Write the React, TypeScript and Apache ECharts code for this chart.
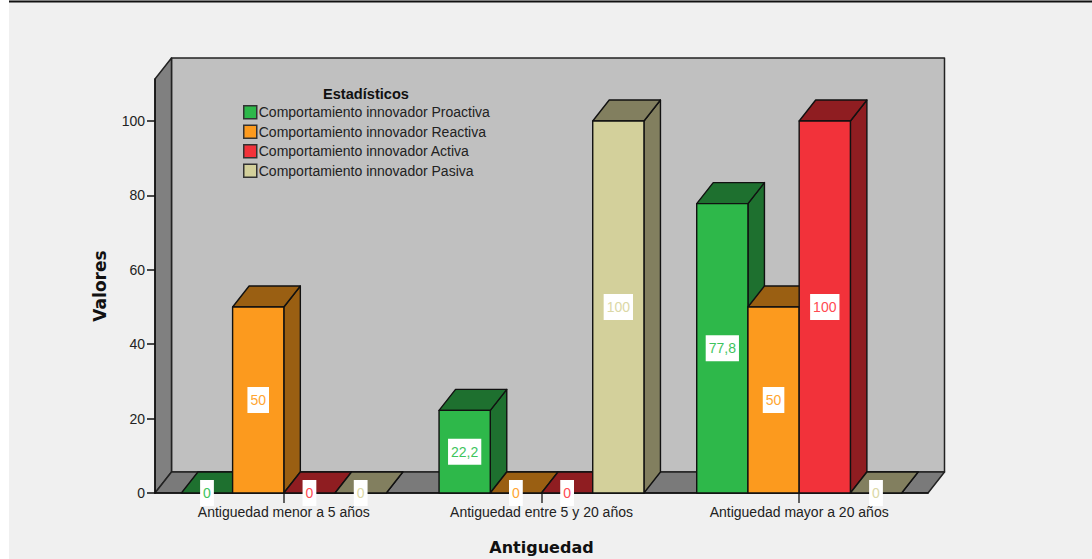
import React, { useEffect, useRef } from "react";
import * as echarts from "echarts";

const categories = [
  "Antiguedad menor a 5 años",
  "Antiguedad entre 5 y 20 años",
  "Antiguedad mayor a 20 años",
];
const proactiva = [0, 22.2, 77.8];
const reactiva = [50, 0, 50];
const activa = [0, 0, 100];
const pasiva = [0, 100, 0];
const seriesNames = [
  "Comportamiento innovador Proactiva",
  "Comportamiento innovador Reactiva",
  "Comportamiento innovador Activa",
  "Comportamiento innovador Pasiva",
];
const frontColors = ["#2eb84a", "#fc9a1e", "#f2323a", "#d3d09b"];
const shadeColors = ["#1e702f", "#9a5f12", "#8f1d21", "#827f5f"];
const tagColors = ["#3ec45c", "#ffa531", "#ff4a52", "#dbd8a6"];

const DEPTH_X = 16.5;
const DEPTH_Y = 21;
const EDGE = "#111";
const SANS = "'Liberation Sans', Arial, sans-serif";
const HEADING = "'DejaVu Sans', Verdana, sans-serif";

// Floor, side wall and back wall of the box behind the bars.
function renderBox(params: any) {
  const { x, y, width, height } = params.coordSys;
  const b = y + height;
  const r = x + width;
  const style = { stroke: "#222", lineWidth: 1.5, lineJoin: "round" };
  const poly = (points: number[][], fill: string) => ({
    type: "polygon",
    silent: true,
    shape: { points },
    style: { ...style, fill },
  });
  return {
    type: "group",
    children: [
      poly(
        [[x + DEPTH_X, y - DEPTH_Y], [r + DEPTH_X, y - DEPTH_Y], [r + DEPTH_X, b - DEPTH_Y], [x + DEPTH_X, b - DEPTH_Y]],
        "#c0c0c0",
      ),
      poly(
        [[x, y], [x + DEPTH_X, y - DEPTH_Y], [x + DEPTH_X, b - DEPTH_Y], [x, b]],
        "#808080",
      ),
      poly(
        [[x, b], [x + DEPTH_X, b - DEPTH_Y], [r + DEPTH_X, b - DEPTH_Y], [r, b]],
        "#7a7a7a",
      ),
    ],
  };
}

// One extruded bar: front, right side, top, and its value tag.
function renderBar(slot: number) {
  return (_params: any, api: any) => {
    const cat = api.value(0);
    const value = api.value(1);
    const base = api.coord([cat, 0]);
    const top = api.coord([cat, value]);
    const w = api.size([1, 0])[0] / 5.03;
    const left = base[0] + (slot - 2) * w;
    const right = left + w;
    const edge = { stroke: EDGE, lineWidth: 1.4, lineJoin: "round" };
    const children: any[] = [
      {
        type: "polygon",
        shape: {
          points: [[right, top[1]], [right + DEPTH_X, top[1] - DEPTH_Y], [right + DEPTH_X, base[1] - DEPTH_Y], [right, base[1]]],
        },
        style: { ...edge, fill: shadeColors[slot] },
      },
      {
        type: "polygon",
        shape: {
          points: [[left, top[1]], [left + DEPTH_X, top[1] - DEPTH_Y], [right + DEPTH_X, top[1] - DEPTH_Y], [right, top[1]]],
        },
        style: { ...edge, fill: shadeColors[slot] },
      },
    ];
    if (value > 0) {
      children.push({
        type: "rect",
        shape: { x: left, y: top[1], width: w, height: base[1] - top[1] },
        style: { ...edge, fill: frontColors[slot] },
      });
    }
    children.push({
      type: "text",
      z2: 50,
      x: (left + right) / 2,
      y: (top[1] + base[1]) / 2,
      style: {
        text: String(value).replace(".", ","),
        fill: tagColors[slot],
        font: `14px ${SANS}`,
        align: "center",
        verticalAlign: "middle",
        backgroundColor: "#fff",
        padding: [6, 3, 6, 3],
      },
    });
    return { type: "group", children };
  };
}

export default function App() {
  const ref = useRef<HTMLDivElement>(null);
  useEffect(() => {
    document.body.style.margin = "0";
    const chart = echarts.init(ref.current!, null, { renderer: "svg" });
    const columns = [proactiva, reactiva, activa, pasiva];
    chart.setOption({
      animation: false,
      backgroundColor: "#fff",
      graphic: [
        { type: "rect", z: -10, shape: { x: 9, y: 0, width: 1083, height: 559 }, style: { fill: "#f0f0f0" } },
        { type: "line", z: -9, shape: { x1: 9, y1: 1.5, x2: 1092, y2: 1.5 }, style: { stroke: "#111", lineWidth: 2 } },
      ],
      title: {
        text: "Estadísticos",
        left: 318,
        top: 81,
        textStyle: { fontFamily: SANS, fontSize: 14.6, fontWeight: "bold", color: "#111" },
      },
      legend: {
        orient: "vertical",
        left: 238,
        top: 100,
        itemWidth: 13,
        itemHeight: 13,
        itemGap: 5,
        icon: "rect",
        data: seriesNames,
        selectedMode: false,
        itemStyle: { borderColor: "#333", borderWidth: 1.5 },
        textStyle: { fontFamily: SANS, fontSize: 14, color: "#222", padding: [0, 0, 0, -3] },
      },
      grid: { left: 155, right: 164, top: 79, bottom: 66, outerBoundsMode: "none" },
      xAxis: {
        type: "category",
        data: categories,
        name: "Antiguedad",
        nameLocation: "middle",
        nameGap: 46,
        nameTextStyle: { fontFamily: HEADING, fontSize: 16, fontWeight: "bold", color: "#111" },
        axisLine: { lineStyle: { color: "#111", width: 1.5 } },
        axisTick: { show: true, alignWithLabel: true, length: 10, lineStyle: { color: "#333", width: 1.5 } },
        axisLabel: { fontFamily: SANS, fontSize: 14, color: "#222", margin: 12 },
        z: 1,
      },
      yAxis: {
        type: "value",
        min: 0,
        max: 111.3,
        interval: 20,
        name: "Valores",
        nameLocation: "middle",
        nameGap: 47,
        nameTextStyle: { fontFamily: HEADING, fontSize: 17, fontWeight: "bold", color: "#111" },
        splitLine: { show: false },
        axisLine: { show: true, lineStyle: { color: "#111", width: 1.5 } },
        axisTick: { show: true, length: 8, lineStyle: { color: "#111", width: 1.5 } },
        axisLabel: { fontFamily: SANS, fontSize: 14, color: "#222", margin: 10, showMaxLabel: false },
        z: 1,
      },
      series: [
        {
          type: "custom",
          name: "box",
          silent: true,
          z: 0,
          encode: { x: 0, y: 1 },
          data: [[0, 0]],
          renderItem: renderBox,
        },
        ...columns.map((values, slot) => ({
          type: "custom",
          name: seriesNames[slot],
          z: 2 + slot,
          itemStyle: { color: frontColors[slot] },
          encode: { x: 0, y: 1 },
          data: values.map((v, i) => [i, v]),
          renderItem: renderBar(slot),
        })),
      ],
    });
    return () => chart.dispose();
  }, []);
  return <div ref={ref} style={{ width: 1092, height: 559 }} />;
}
